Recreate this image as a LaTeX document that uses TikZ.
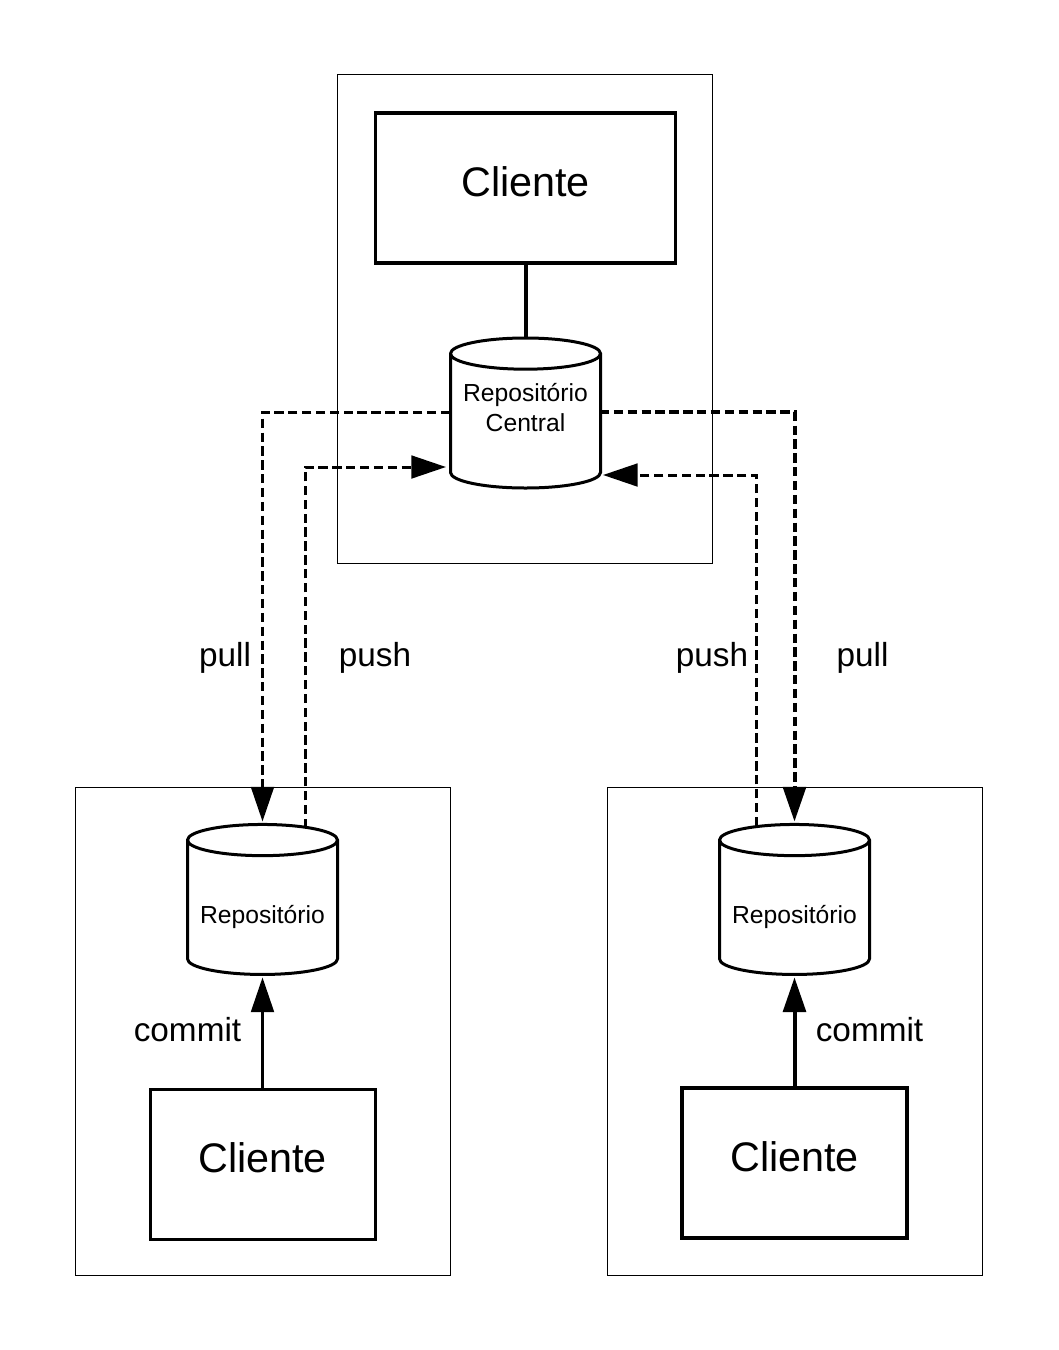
\documentclass[tikz,border=0pt]{standalone}
\usepackage{fontspec}
\setmainfont{Liberation Sans}
\usetikzlibrary{positioning,shapes.geometric,arrows.meta}

\begin{document}
\begin{tikzpicture}[
  x=0.75pt, y=-0.75pt,
  outer sep=0pt,
  hostbox/.style={draw, line width=0.75pt, minimum width=281.25pt, minimum height=366pt},
  clientbox/.style={draw, line width=2.4pt, fill=white, minimum width=225pt, minimum height=112.5pt, font=\fontsize{31}{36}\selectfont, text height=20pt, text depth=8pt, inner sep=0pt},
  smallclient/.style={clientbox, minimum width=168.75pt},
  repo/.style={draw, shape=cylinder, shape border rotate=90, aspect=0.25, line width=2.25pt, fill=white, minimum width=112.5pt, minimum height=112.5pt, inner sep=0pt, font=\fontsize{18.5}{22.5}\selectfont, align=center},
  low-text/.style={text height=23pt, text depth=0pt},
  opposite/.style={font=\fontsize{25}{30}\selectfont},
  pull-arrow/.style={draw, dashed, dash pattern=on 7pt off 3.4pt, line width=2.25pt, -{Triangle[length=26pt,width=17pt]}},
  commit-arrow/.style={draw, line width=2.25pt, -{Triangle[length=26pt,width=17pt]}},
  ]
  \useasboundingbox (0,0) rectangle (1058,1350);

  % outer boxes
  \node[hostbox, minimum height=366.75pt] (hostCentral) at (525,319) {};
  \node[hostbox] (hostLeft) at (262.5,1031.5) {};
  \node[hostbox] (hostRight) at (794.5,1031.5) {};

  % central side
  \node[clientbox] (clientCentral) at (525.5,188) {Cliente};
  \node[repo, text height=15pt, below=56.25pt of clientCentral] (central) {Repositório\\Central};
  \draw[line width=3pt] (clientCentral) -- (central);

  % left and right side
  \node[smallclient, line width=2.25pt] (clientLeft) at (262.5,1164.5) {Cliente};
  \node[smallclient] (clientRight) at (794.5,1163) {Cliente};
  \node[repo, low-text] (repoLeft) at (262.5,908) {Repositório};
  \node[repo, low-text] (repoRight) at (794.5,908) {Repositório};

  \coordinate (pullLeftStart) at (450,412);
  \coordinate (pullRightStart) at (600,412);
  \coordinate (pushLeftEnd) at (446,467);
  \coordinate (pushRightEnd) at (603,475);
  \coordinate (pushLeftStart) at (305,828);
  \coordinate (pushRightStart) at (756,826);

  \draw[pull-arrow] (pullLeftStart) -| ([yshift=2.2pt]repoLeft.north);
  \draw[pull-arrow, line width=3pt] (pullRightStart) -| ([yshift=2.2pt]repoRight.north);
  \draw[pull-arrow] (pushLeftStart) |- (pushLeftEnd);
  \draw[pull-arrow] (pushRightStart) |- (pushRightEnd);

  \draw[commit-arrow] (clientLeft) -- ([yshift=-2.2pt]repoLeft.south);
  \draw[commit-arrow, line width=3pt] (clientRight) -- ([yshift=-2.2pt]repoRight.south);

  \node[opposite] (pullLeft) at (225,658) {pull};
  \node[opposite] (pushLeft) at (375,658) {push};
  \node[opposite] (pushRight) at (712,658) {push};
  \node[opposite] (pullRight) at (862.5,658) {pull};
  \node[opposite] (commitLeft) at (187.5,1030) {commit};
  \node[opposite] (commitRight) at (869.5,1030) {commit};
\end{tikzpicture}
\end{document}
